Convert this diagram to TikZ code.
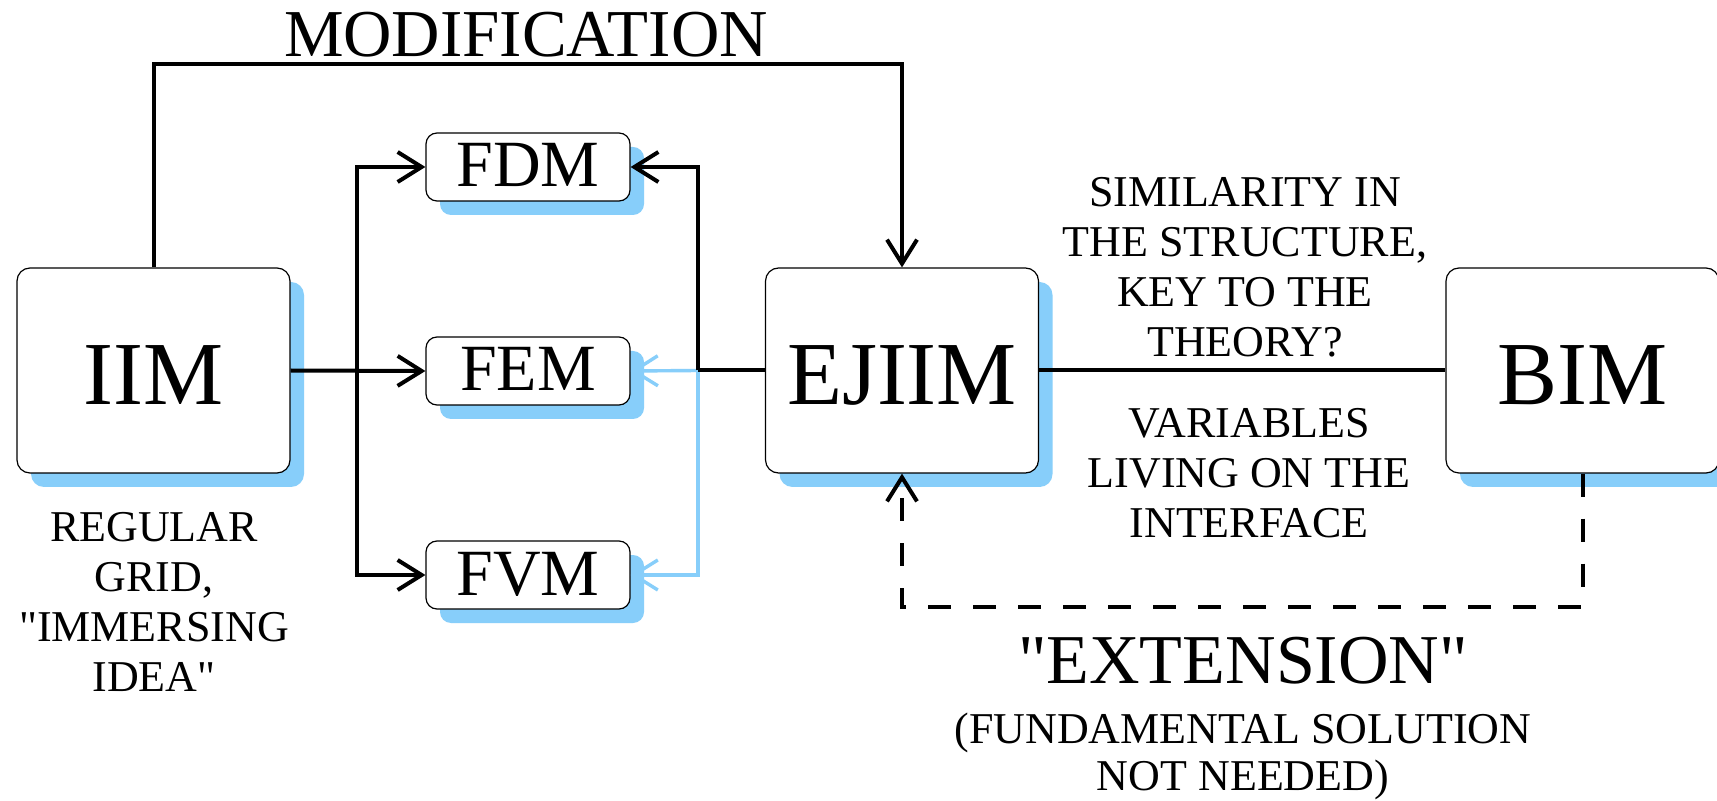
\documentclass[tikz,border=0pt]{standalone}
\usepackage{fontspec}
\setmainfont{Liberation Serif}
\usetikzlibrary{arrows.meta,shadows,calc}
\definecolor{skyb}{HTML}{87CEFA}
\newcommand{\dq}{{\XeTeXglyph\XeTeXglyphindex "quotedbl"\relax}}
\tikzset{
  bigbox/.style={draw=black, line width=0.6pt, fill=white, rounded corners=6.5pt,
    minimum width=136.5pt, minimum height=102.5pt, inner sep=0pt,
    text height=34.5pt, text depth=0pt,
    font=\fontsize{45}{50}\selectfont,
    drop shadow={shadow xshift=7pt, shadow yshift=-7pt, fill=skyb, opacity=1, draw=none}},
  smallbox/.style={draw=black, line width=0.6pt, fill=white, rounded corners=5.5pt,
    minimum width=102pt, minimum height=34pt, inner sep=0pt,
    text height=20pt, text depth=0pt,
    font=\fontsize{33}{36}\selectfont,
    drop shadow={shadow xshift=7pt, shadow yshift=-7pt, fill=skyb, opacity=1, draw=none}},
  conn/.style={line width=2pt, draw=black},
  tipb/.style={-{Straight Barb[length=12pt,width=15pt]}},
  arr/.style={conn, tipb},
  barr/.style={line width=1.7pt, draw=skyb, tipb},
  dasharr/.style={conn, dash pattern=on 11.5pt off 11pt, tipb},
  lbl/.style={font=\fontsize{22}{25}\selectfont, align=center, anchor=base, inner sep=0pt},
}
\begin{document}
\begin{tikzpicture}[x=0.5pt,y=-0.5pt]
\clip (0,0) rectangle (1717,801);
\fill[white] (0,0) rectangle (1717,801);

% boxes
\node[bigbox] (IIM) at (153.5,370.5) {IIM};
\node[bigbox] (EJIIM) at (902,370.5) {EJIIM};
\node[bigbox] (BIM) at (1582.5,370.5) {BIM};
\node[smallbox] (FDM) at (528,167) {FDM};
\node[smallbox] (FEM) at (528,371) {FEM};
\node[smallbox] (FVM) at (528,575) {FVM};

% helper coordinates
\coordinate (topy) at (0,64);
\coordinate (br) at (357,370.5);
\coordinate (bl) at (698,370.5);
\coordinate (dy) at (0,607);

% connectors
\draw[arr] (IIM.north) -- (IIM.north |- topy) -- (EJIIM.north |- topy) -- (EJIIM.north);
\draw[arr] (IIM.east) -- (FEM.west);
\draw[arr] (br) |- (FDM.west);
\draw[arr] (br) |- (FVM.west);
\draw[barr] (bl) -- (FEM.east);
\draw[barr] (bl) |- (FVM.east);
\draw[conn] (EJIIM.west) -- (bl);
\draw[arr] (bl) |- (FDM.east);
\draw[conn] (EJIIM.east) -- (BIM.west);
\draw[dasharr] (BIM.south) -- (BIM.south |- dy) -- (EJIIM.south |- dy) -- (EJIIM.south);

% labels (anchor base = baseline of the last line)
\node[lbl, font=\fontsize{33.5}{36}\selectfont] (mod) at (526,57) {MODIFICATION};
\node[lbl] (reg) at (154,691) {REGULAR\\GRID,\\\dq IMMERSING\\IDEA\dq};
\node[lbl] (sim) at (1245,357) {SIMILARITY IN\\THE STRUCTURE,\\KEY TO THE\\THEORY?};
\node[lbl] (var) at (1249,538) {VARIABLES\\LIVING ON THE\\INTERFACE};
\node[lbl, font=\fontsize{35}{38}\selectfont] (ext) at (1243,683) {\dq EXTENSION\dq};
\node[lbl, font=\fontsize{22}{23.5}\selectfont] (fund) at (1243,790) {(FUNDAMENTAL SOLUTION\\NOT NEEDED)};
\end{tikzpicture}
\end{document}
